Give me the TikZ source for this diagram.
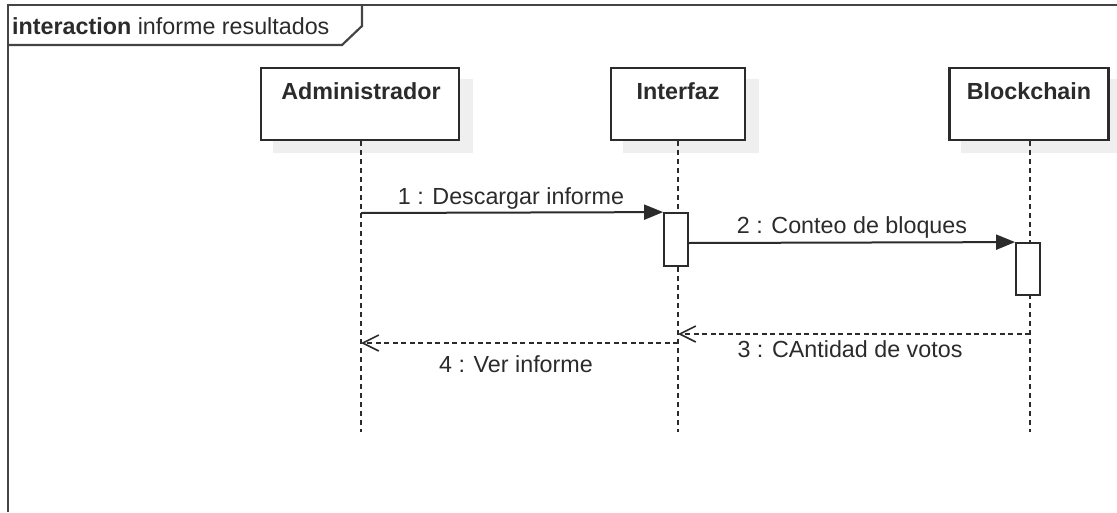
\documentclass[tikz,border=0pt]{standalone}
\usepackage{fontspec}
\setmainfont{Liberation Sans}
\usetikzlibrary{arrows.meta}
\definecolor{ln}{HTML}{2B2B2B}
\definecolor{framec}{HTML}{444444}
\definecolor{shadowc}{HTML}{EFEFEF}
\begin{document}
\begin{tikzpicture}[x=1pt,y=-1pt,
  font=\fontsize{23.3}{28}\selectfont, text=ln,
  frameline/.style={draw=framec, line width=2.2pt},
  lifebox/.style={draw=ln, line width=2.2pt, fill=white, rectangle, inner sep=0pt, minimum height=72pt},
  actbox/.style={draw=ln, line width=1.8pt, fill=white, rectangle, inner sep=0pt, minimum width=24pt},
  lifeline/.style={draw=ln, line width=1.9pt, dash pattern=on 5pt off 4pt},
  sync/.style={draw=ln, line width=2pt, -{Triangle[length=19pt,width=15pt]}},
  reply/.style={draw=ln, line width=1.6pt, dash pattern=on 5pt off 3.5pt, -{Straight Barb[length=16pt,width=16pt,line width=1.6pt]}},
  txt/.style={anchor=base, inner sep=0pt},
  shadow/.style={fill=shadowc}]
\useasboundingbox (0,0) rectangle (1117,512);
% frame
\draw[frameline] (8,512) -- (8,5) -- (1117,5);
\draw[frameline] (362,5) -- (362,26) -- (342,45) -- (8,45);
\node[anchor=base west, inner sep=0pt] (title) at (12,34) {\textbf{interaction} informe resultados};
% lifeline boxes
\node[lifebox, minimum width=198pt] (adm) at (360,104) {};
\node[lifebox, minimum width=134pt] (int) at (678,104) {};
\node[lifebox, minimum width=159pt] (blk) at (1029,104) {};
\fill[shadow] ([shift={(13,12)}]adm.north west) rectangle ([shift={(13,12)}]adm.south east);
\fill[shadow] ([shift={(13,12)}]int.north west) rectangle ([shift={(13,12)}]int.south east);
\fill[shadow] ([shift={(13,12)}]blk.north west) rectangle ([shift={(13,12)}]blk.south east);
\node[lifebox, minimum width=198pt] at (360,104) {};
\node[lifebox, minimum width=134pt] at (678,104) {};
\node[lifebox, minimum width=159pt] at (1029,104) {};
\node[txt] (admL) at (361,99) {\textbf{Administrador}};
\node[txt] (intL) at (678,99) {\textbf{Interfaz}};
\node[txt] (blkL) at (1029,99) {\textbf{Blockchain}};
% lifelines
\coordinate (admE) at (361,432);
\coordinate (intE) at (678,432);
\coordinate (blkE) at (1030,432);
\draw[lifeline] (admE |- adm.south) -- (admE);
\draw[lifeline] (intE |- int.south) -- (intE);
\draw[lifeline] (blkE |- blk.south) -- (blkE);
% activations
\node[actbox, minimum height=53pt] (act1) at (676,239.5) {};
\node[actbox, minimum height=52pt] (act2) at (1028,269) {};
% messages
\coordinate (m1s) at (361,213);
\draw[sync] (m1s) -- (act1.north west);
\node[txt] (m1L) at (511,204) {1 : Descargar informe};
\coordinate (m2s) at (688,243);
\draw[sync] (m2s) -- (act2.north west);
\node[txt] (m2L) at (852,233) {2 : Conteo de bloques};
\coordinate (m3s) at (1030,334);
\coordinate (m3e) at (678,334);
\draw[reply] (m3s) -- (m3e);
\node[txt] (m3L) at (850,357) {3 : CAntidad de votos};
\coordinate (m4s) at (678,343);
\coordinate (m4e) at (361,343);
\draw[reply] (m4s) -- (m4e);
\node[txt] (m4L) at (516,372) {4 : Ver informe};
\end{tikzpicture}
\end{document}
